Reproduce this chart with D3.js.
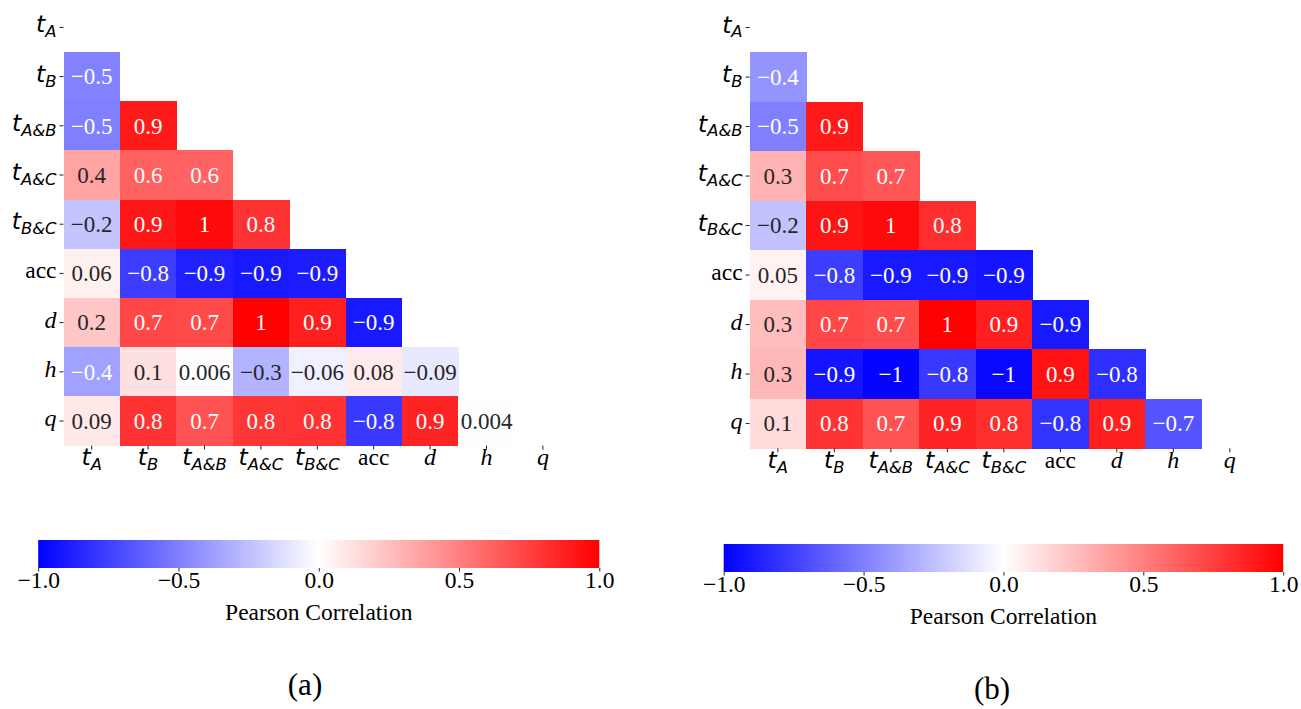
<!DOCTYPE html>
<html>
<head>
<meta charset="utf-8">
<script src="https://cdn.jsdelivr.net/npm/d3@7"></script>
<style>
  body { margin: 0; background: #fff; }
  svg { display: block; }
  .ann { font-family: 'Liberation Serif', 'Times New Roman', serif; font-size: 23px; }
  .serif { font-family: 'Liberation Serif', 'Times New Roman', serif; }
</style>
</head>
<body>
<div id="canvas"></div>
<script>
// variable names, in matrix order
var labels = ['tA', 'tB', 'tA&B', 'tA&C', 'tB&C', 'acc', 'd', 'h', 'q'];

// lower triangle of the correlation matrix (rows tB..q, cols tA..)
var corrA = [
  [-0.49],
  [-0.5, 0.9],
  [0.36, 0.62, 0.61],
  [-0.23, 0.91, 0.96, 0.8],
  [0.06, -0.76, -0.88, -0.9, -0.89],
  [0.22, 0.72, 0.71, 1, 0.88, -0.9],
  [-0.37, 0.12, 0.006, -0.3, -0.06, 0.08, -0.09],
  [0.09, 0.8, 0.68, 0.79, 0.8, -0.78, 0.86, 0.004]
];
var corrB = [
  [-0.42],
  [-0.5, 0.9],
  [0.3, 0.7, 0.66],
  [-0.24, 0.92, 0.96, 0.82],
  [0.05, -0.76, -0.9, -0.9, -0.92],
  [0.26, 0.72, 0.7, 1, 0.88, -0.9],
  [0.28, -0.92, -0.98, -0.78, -0.97, 0.93, -0.82],
  [0.14, 0.8, 0.68, 0.86, 0.82, -0.8, 0.88, -0.67]
];
var cbarTicks = [-1, -0.5, 0, 0.5, 1];
var cbarTitle = 'Pearson Correlation';
var panelNames = ['(a)', '(b)'];

var W = 1301, H = 709;
var svg = d3.select('#canvas').append('svg')
    .attr('width', W).attr('height', H);

var color = d3.scaleLinear()
    .domain([-1, 0, 1])
    .range(['#0000ff', '#ffffff', '#ff0000']);
var fmt = d3.format('.1g');

function lum(c){
  var rgb = d3.rgb(c);
  var f = function(v){ v = v/255; return v <= 0.03928 ? v/12.92 : Math.pow((v+0.055)/1.055, 2.4); };
  return 0.2126*f(rgb.r) + 0.7152*f(rgb.g) + 0.0722*f(rgb.b);
}

// write a variable name as math text: t with subscript, italic letters, or plain
function mathLabel(text, name, size){
  text.text(null).style('font-size', size + 'px');
  if(name.charAt(0) == 't'){
    text.append('tspan')
        .style('font-family', "'DejaVu Sans', sans-serif")
        .style('font-style', 'oblique')
        .style('font-size', size + 'px')
        .text('t');
    text.append('tspan')
        .style('font-family', "'DejaVu Sans', sans-serif")
        .style('font-style', 'oblique')
        .style('font-size', (size*0.7) + 'px')
        .attr('dy', (size*0.21) + 'px')
        .text(name.slice(1));
  } else if(name == 'acc'){
    text.append('tspan').attr('class', 'serif')
        .style('font-size', '23.5px').text(name);
  } else {
    text.append('tspan').attr('class', 'serif')
        .style('font-style', 'italic')
        .style('font-size', '24px').text(name);
  }
}

function drawPanel(rows, p){
  var g = svg.append('g')
      .attr('transform', 'translate(' + p.x0 + ',' + p.y0 + ')');
  var x = d3.scaleBand().domain(labels).range([0, p.cw*labels.length]);
  var y = d3.scaleBand().domain(labels).range([0, p.ch*labels.length]);

  var cells = [];
  rows.forEach(function(r, i){
    r.forEach(function(v, j){
      cells.push({row: labels[i+1], col: labels[j], v: v});
    });
  });

  g.selectAll('.cell')
      .data(cells)
      .enter()
      .append('rect')
      .attr('class', 'cell')
      .attr('x', function(d){ return x(d.col); })
      .attr('y', function(d){ return y(d.row); })
      .attr('width', x.bandwidth() + 0.5)
      .attr('height', y.bandwidth() + 0.5)
      .attr('fill', function(d){ return color(d.v); })
      .attr('shape-rendering', 'crispEdges');

  g.selectAll('.ann')
      .data(cells)
      .enter()
      .append('text')
      .attr('class', 'ann')
      .attr('x', function(d){ return x(d.col) + x.bandwidth()/2; })
      .attr('y', function(d){ return y(d.row) + y.bandwidth()/2; })
      .attr('dy', '0.34em')
      .attr('text-anchor', 'middle')
      .attr('fill', function(d){ return lum(color(d.v)) > 0.408 ? '#262626' : '#ffffff'; })
      .text(function(d){ return fmt(d.v); });

  // axes
  var axisX = d3.axisBottom(x).tickSize(4).tickPadding(0);
  var axisY = d3.axisLeft(y).tickSize(4).tickPadding(3);
  var gx = g.append('g').attr('class', 'axis axis-x')
      .attr('transform', 'translate(0,' + (p.ch*labels.length) + ')')
      .call(axisX);
  var gy = g.append('g').attr('class', 'axis axis-y').call(axisY);
  [gx, gy].forEach(function(a){
    a.select('.domain').remove();
    a.selectAll('.tick line').attr('stroke', '#222');
  });
  gx.selectAll('.tick text').attr('fill', '#000')
      .each(function(d){ mathLabel(d3.select(this), d, 23.5); })
      .attr('dy', '15.5px');
  gy.selectAll('.tick text').attr('fill', '#000')
      .each(function(d){ mathLabel(d3.select(this), d, 23.5); })
      .attr('dy', '5px');

  // colorbar
  var cb = svg.append('g')
      .attr('transform', 'translate(' + p.cbx0 + ',' + p.cby + ')');
  var cs = d3.scaleLinear().domain([-1, 1]).range([0, p.cbx1 - p.cbx0]);
  var gradId = 'grad' + p.id;
  var grad = svg.append('defs').append('linearGradient')
      .attr('id', gradId)
      .attr('x1', '0%').attr('x2', '100%');
  grad.selectAll('stop')
      .data([-1, 0, 1])
      .enter().append('stop')
      .attr('offset', function(d){ return ((d+1)/2*100) + '%'; })
      .attr('stop-color', function(d){ return color(d); });
  cb.append('rect')
      .attr('width', p.cbx1 - p.cbx0)
      .attr('height', p.cbh)
      .attr('fill', 'url(#' + gradId + ')');
  var axisC = d3.axisBottom(cs)
      .tickValues(cbarTicks)
      .tickFormat(d3.format('.1f'))
      .tickSize(3.5).tickPadding(0);
  var gc = cb.append('g')
      .attr('transform', 'translate(0,' + p.cbh + ')')
      .call(axisC);
  gc.select('.domain').remove();
  gc.selectAll('.tick line').attr('stroke', '#222');
  gc.selectAll('.tick text')
      .attr('class', 'serif')
      .attr('fill', '#000')
      .attr('dy', '0.72em')
      .style('font-size', '23.5px');
  cb.append('text')
      .attr('class', 'serif')
      .attr('x', (p.cbx1 - p.cbx0)/2)
      .attr('y', p.cbTitleY - p.cby)
      .attr('text-anchor', 'middle')
      .style('font-size', '23.5px')
      .text(cbarTitle);

  svg.append('text')
      .attr('class', 'serif')
      .attr('x', p.labX)
      .attr('y', p.labY)
      .attr('dy', '0.35em')
      .attr('text-anchor', 'middle')
      .style('font-size', '31px')
      .text(p.name);
}

drawPanel(corrA, {id: 'a', name: panelNames[0], x0: 63.5, y0: 2.8, cw: 56.4, ch: 49.2,
  cbx0: 38.2, cbx1: 599.3, cby: 540, cbh: 28, cbTitleY: 620, labX: 305, labY: 684});
drawPanel(corrB, {id: 'b', name: panelNames[1], x0: 749.6, y0: 2.8, cw: 56.5, ch: 49.5,
  cbx0: 723.7, cbx1: 1283.2, cby: 544, cbh: 28, cbTitleY: 624, labX: 992, labY: 688});
</script>
</body>
</html>
